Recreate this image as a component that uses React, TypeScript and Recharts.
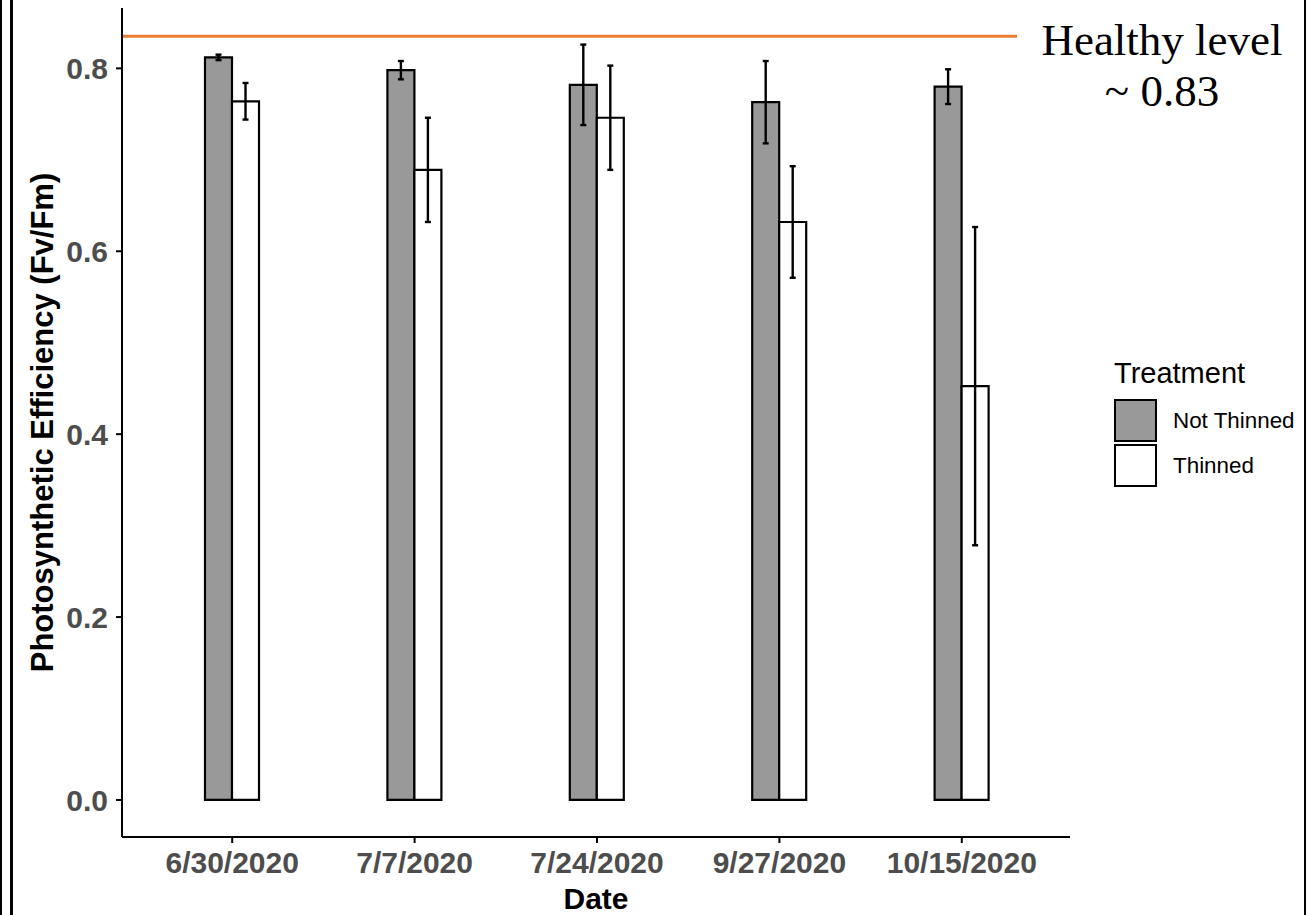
import React from 'react';
import { BarChart, Bar, XAxis, YAxis, ErrorBar, ReferenceLine, Legend, Label } from 'recharts';

const dates = ['6/30/2020', '7/7/2020', '7/24/2020', '9/27/2020', '10/15/2020'];
const notThinned = [0.812, 0.798, 0.782, 0.763, 0.780];
const notThinnedErr = [0.003, 0.010, 0.044, 0.045, 0.019];
const thinned = [0.764, 0.689, 0.746, 0.632, 0.4525];
const thinnedErr = [0.020, 0.057, 0.057, 0.061, 0.174];
const yTicks = [0, 0.2, 0.4, 0.6, 0.8];
const healthyLevel = 0.835;

const data = dates.map((d, i) => ({
  date: d,
  notThinned: notThinned[i],
  notThinnedErr: notThinnedErr[i],
  thinned: thinned[i],
  thinnedErr: thinnedErr[i],
}));

const SANS = '"Liberation Sans", Arial, sans-serif';
const SERIF = '"Liberation Serif", "Times New Roman", serif';

const renderLegend = () => (
  <div style={{ position: 'relative', width: 190, height: 135, fontFamily: SANS, color: '#000' }}>
    <div style={{ position: 'absolute', left: 0, top: 0, fontSize: 29, lineHeight: '36px', whiteSpace: 'nowrap' }}>Treatment</div>
    <div style={{ position: 'absolute', left: 0, top: 44, width: 43, height: 43, boxSizing: 'border-box', border: '2.5px solid #000', background: '#999999' }} />
    <div style={{ position: 'absolute', left: 0, top: 89, width: 43, height: 43, boxSizing: 'border-box', border: '2.5px solid #000', background: '#ffffff' }} />
    <div style={{ position: 'absolute', left: 59, top: 44, fontSize: 22.4, lineHeight: '43px', whiteSpace: 'nowrap' }}>Not Thinned</div>
    <div style={{ position: 'absolute', left: 59, top: 89, fontSize: 22.4, lineHeight: '43px', whiteSpace: 'nowrap' }}>Thinned</div>
  </div>
);

export default function App() {
  return (
    <div style={{ position: 'fixed', left: 0, top: 0, width: 1307, height: 915, background: '#fff', overflow: 'hidden' }}>
      <div style={{ position: 'absolute', left: 0, top: 0, width: 1.5, height: 915, background: '#000' }} />
      <div style={{ position: 'absolute', left: 10, top: 0, width: 2.5, height: 915, background: '#000' }} />
      <div style={{ position: 'absolute', left: 1304, top: 0, width: 1.5, height: 915, background: '#000' }} />
      <BarChart
        width={1307}
        height={915}
        data={data}
        margin={{ top: 8, right: 237, bottom: 0, left: 0 }}
        barGap={0}
        barSize={27}
        style={{ fontFamily: SANS }}
      >
        <XAxis
          dataKey="date"
          height={78}
          interval={0}
          padding={{ left: 19, right: 17 }}
          axisLine={{ stroke: '#000', strokeWidth: 2 }}
          tickLine={{ stroke: '#000', strokeWidth: 2 }}
          tickSize={6}
          tickMargin={9}
          tick={{ fill: '#4d4d4d', fontSize: 30, fontWeight: 'bold', fontFamily: SANS }}
        >
          <Label
            content={(props: any) => {
              const vb = props.viewBox || {};
              return (
                <text x={vb.x + vb.width / 2} y={vb.y + 72} textAnchor="middle" fontSize={30} fontWeight="bold" fill="#000" fontFamily={SANS}>
                  Date
                </text>
              );
            }}
          />
        </XAxis>
        <YAxis
          type="number"
          width={122}
          domain={[-0.0405, 0.866]}
          ticks={yTicks}
          allowDataOverflow
          tickFormatter={(v: number) => v.toFixed(1)}
          axisLine={{ stroke: '#000', strokeWidth: 2 }}
          tickLine={{ stroke: '#000', strokeWidth: 2 }}
          tickSize={6}
          tickMargin={8}
          tick={{ fill: '#4d4d4d', fontSize: 30, fontWeight: 'bold', fontFamily: SANS }}
        >
          <Label
            content={(props: any) => {
              const vb = props.viewBox || {};
              const cy = vb.y + vb.height / 2;
              return (
                <text x={53} y={cy} transform={`rotate(-90, 53, ${cy})`} textAnchor="middle" fontSize={31} fontWeight="bold" fill="#000" fontFamily={SANS}>
                  Photosynthetic Efficiency (Fv/Fm)
                </text>
              );
            }}
          />
        </YAxis>
        <Legend layout="vertical" align="center" verticalAlign="middle" content={renderLegend} wrapperStyle={{ position: 'absolute', left: 1114, top: 355, width: 190, height: 135 }} />
        <Bar dataKey="notThinned" name="Not Thinned" fill="#999999" stroke="#000" strokeWidth={2.2} isAnimationActive={false}>
          <ErrorBar dataKey="notThinnedErr" width={3} stroke="#000" strokeWidth={2.4} isAnimationActive={false} />
        </Bar>
        <Bar dataKey="thinned" name="Thinned" fill="#ffffff" stroke="#000" strokeWidth={2.2} isAnimationActive={false}>
          <ErrorBar dataKey="thinnedErr" width={3} stroke="#000" strokeWidth={2.4} isAnimationActive={false} />
        </Bar>
        <ReferenceLine
          y={healthyLevel}
          ifOverflow="visible"
          shape={(p: any) => (
            <line x1={p.x1} y1={p.y1} x2={p.x2 - 53} y2={p.y2} stroke="#ED7D31" strokeWidth={3} />
          )}
          label={(props: any) => {
            const vb = props.viewBox || {};
            const cx = vb.x + vb.width + 92;
            return (
              <g>
                <text x={cx} y={vb.y + 19} textAnchor="middle" fontSize={45} fill="#000" fontFamily={SERIF}>Healthy level</text>
                <text x={cx} y={vb.y + 70} textAnchor="middle" fontSize={45} fill="#000" fontFamily={SERIF}>~ 0.83</text>
              </g>
            );
          }}
        />
      </BarChart>
    </div>
  );
}
